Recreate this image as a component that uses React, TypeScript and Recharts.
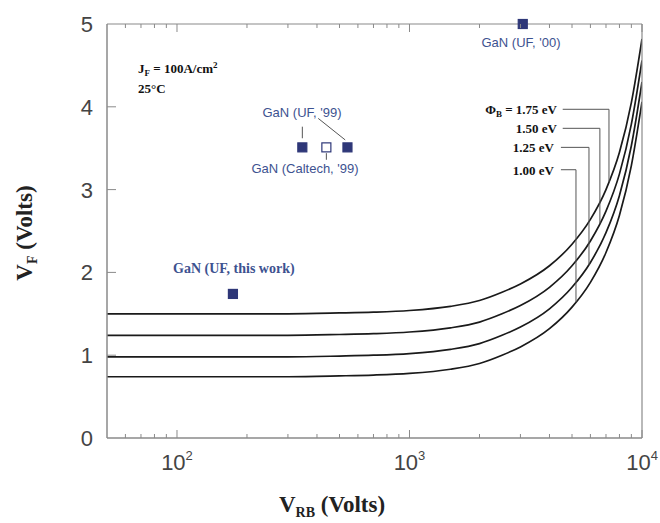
import React from "react";
import {
  ComposedChart,
  Line,
  Scatter,
  XAxis,
  YAxis,
  ReferenceLine,
  Customized,
} from "recharts";

// reverse blocking voltage (V) and forward voltage (V) for each barrier height
const vrb = [50, 100, 200, 300, 500, 700, 1000, 1500, 2000, 2500, 3000, 4000, 5000, 6000, 7000, 8000, 9000, 10000];
const vf100 = [0.74, 0.74, 0.74, 0.74, 0.75, 0.76, 0.78, 0.83, 0.9, 1.0, 1.1, 1.32, 1.58, 1.88, 2.24, 2.69, 3.29, 4.06];
const vf125 = [0.98, 0.98, 0.98, 0.98, 0.99, 1.0, 1.02, 1.07, 1.14, 1.24, 1.34, 1.56, 1.82, 2.12, 2.48, 2.93, 3.53, 4.3];
const vf150 = [1.24, 1.24, 1.24, 1.24, 1.25, 1.26, 1.28, 1.33, 1.4, 1.5, 1.6, 1.82, 2.08, 2.38, 2.74, 3.19, 3.79, 4.56];
const vf175 = [1.5, 1.5, 1.5, 1.5, 1.51, 1.52, 1.54, 1.59, 1.66, 1.76, 1.86, 2.08, 2.34, 2.64, 3.0, 3.45, 4.05, 4.82];

// reported devices
const ufThisWork = [{ x: 174, y: 1.74 }];
const uf99 = [
  { x: 346, y: 3.51 },
  { x: 541, y: 3.51 },
];
const caltech99 = [{ x: 439, y: 3.51 }];
const uf00 = [{ x: 3070, y: 5.0 }];

const xMajor = [100, 1000, 10000];
const xTicks = [60, 70, 80, 90, 100, 200, 300, 400, 500, 600, 700, 800, 900, 1000, 2000, 3000, 4000, 5000, 6000, 7000, 8000, 9000, 10000];
const yTicks = [0, 1, 2, 3, 4, 5];
const yRightTicks = [1, 2, 3, 4];

const toRows = (ys: number[]) => vrb.map((x, i) => ({ x, y: ys[i] }));

const AXIS = "#8a8a8a";
const NAVY = "#2e3778";
const LABEL_BLUE = "#3d5290";
const SERIF = "'Liberation Serif', 'DejaVu Serif', serif";
const SANS = "'Liberation Sans', Arial, sans-serif";

const BottomTick = (props: any) => {
  const { x, y, payload } = props;
  const v = payload.value;
  const major = xMajor.includes(v);
  return (
    <g>
      <line x1={x} y1={y} x2={x} y2={y - (major ? 8 : 4)} stroke={AXIS} strokeWidth={1} />
      {major && (
        <text x={x} y={y + 32} textAnchor="middle" fontFamily={SANS} fontSize={22} fill="#444">
          10
          <tspan dy={-10} fontSize={13}>
            {Math.round(Math.log10(v))}
          </tspan>
        </text>
      )}
    </g>
  );
};

const TopTick = (props: any) => {
  const { x, y, payload } = props;
  const major = xMajor.includes(payload.value);
  return <line x1={x} y1={y} x2={x} y2={y + (major ? 8 : 4)} stroke={AXIS} strokeWidth={1} />;
};

const LeftTick = (props: any) => {
  const { x, y, payload } = props;
  return (
    <g>
      {payload.value > 0 && payload.value < 5 && (
        <line x1={x} y1={y} x2={x + 9} y2={y} stroke={AXIS} strokeWidth={1} />
      )}
      <text x={x - 14} y={y + 8} textAnchor="end" fontFamily={SANS} fontSize={22} fill="#444">
        {payload.value}
      </text>
    </g>
  );
};

const RightTick = (props: any) => {
  const { x, y } = props;
  return <line x1={x} y1={y} x2={x - 7} y2={y} stroke={AXIS} strokeWidth={1} />;
};

const square = (filled: boolean) => (p: any) => (
  <rect
    x={p.cx - 4.5}
    y={p.cy - 4.5}
    width={9}
    height={9}
    fill={filled ? NAVY : "#fff"}
    stroke={NAVY}
    strokeWidth={1.2}
  />
);

const Annotations = () => (
  <g>
    <text x={138} y={73} fontFamily={SERIF} fontWeight="bold" fontSize={13} fill="#111">
      J<tspan dy={3} fontSize={9}>F</tspan>
      <tspan dy={-3}> = 100A/cm</tspan>
      <tspan dy={-5} fontSize={9}>2</tspan>
    </text>
    <text x={138} y={93} fontFamily={SERIF} fontWeight="bold" fontSize={13} fill="#111">
      25°C
    </text>
    <text x={521} y={47} textAnchor="middle" fontFamily={SANS} fontSize={13} fill={LABEL_BLUE}>
      GaN (UF, '00)
    </text>
    <text x={302} y={117} textAnchor="middle" fontFamily={SANS} fontSize={13} fill={LABEL_BLUE}>
      GaN (UF, '99)
    </text>
    <text x={305} y={173} textAnchor="middle" fontFamily={SANS} fontSize={13} fill={LABEL_BLUE}>
      GaN (Caltech, '99)
    </text>
    <text x={173} y={273} fontFamily={SERIF} fontWeight="bold" fontSize={14} fill={LABEL_BLUE}>
      GaN (UF, this work)
    </text>
    <text x={557} y={114} textAnchor="end" fontFamily={SERIF} fontWeight="bold" fontSize={13} fill="#111">
      Φ<tspan dy={3} fontSize={9}>B</tspan>
      <tspan dy={-3}> = 1.75 eV</tspan>
    </text>
    <text x={557} y={133} textAnchor="end" fontFamily={SERIF} fontWeight="bold" fontSize={13} fill="#111">
      1.50 eV
    </text>
    <text x={554} y={152} textAnchor="end" fontFamily={SERIF} fontWeight="bold" fontSize={13} fill="#111">
      1.25 eV
    </text>
    <text x={554} y={175} textAnchor="end" fontFamily={SERIF} fontWeight="bold" fontSize={13} fill="#111">
      1.00 eV
    </text>
    <text
      x={32}
      y={233}
      transform="rotate(-90 32 233)"
      textAnchor="middle"
      fontFamily={SERIF}
      fontWeight="bold"
      fontSize={23}
      fill="#222"
    >
      V<tspan dy={5} fontSize={14}>F</tspan>
      <tspan dy={-5}> (Volts)</tspan>
    </text>
    <text x={332} y={512} textAnchor="middle" fontFamily={SERIF} fontWeight="bold" fontSize={23} fill="#222">
      V<tspan dy={5} fontSize={14}>RB</tspan>
      <tspan dy={-5}> (Volts)</tspan>
    </text>
  </g>
);

const leaders = [
  [{ x: 4560, y: 3.97 }, { x: 7210, y: 3.97 }],
  [{ x: 7210, y: 3.97 }, { x: 7210, y: 3.09 }],
  [{ x: 4560, y: 3.74 }, { x: 6590, y: 3.74 }],
  [{ x: 6590, y: 3.74 }, { x: 6590, y: 2.59 }],
  [{ x: 4480, y: 3.51 }, { x: 5915, y: 3.51 }],
  [{ x: 5915, y: 3.51 }, { x: 5915, y: 2.09 }],
  [{ x: 4480, y: 3.24 }, { x: 5200, y: 3.24 }],
  [{ x: 5200, y: 3.24 }, { x: 5200, y: 1.64 }],
  [{ x: 346, y: 3.62 }, { x: 346, y: 3.76 }],
  [{ x: 405, y: 3.86 }, { x: 529, y: 3.6 }],
  [{ x: 439, y: 3.44 }, { x: 439, y: 3.36 }],
];

const curves = [vf100, vf125, vf150, vf175];

export default function App() {
  return (
    <div>
      <style>{`body{margin:0;background:#fff}`}</style>
      <ComposedChart width={660} height={523} margin={{ top: 23, right: 0, left: 0, bottom: 0 }}>
        <XAxis
          xAxisId="bottom"
          type="number"
          dataKey="x"
          scale="log"
          domain={[50, 10000]}
          allowDataOverflow
          ticks={xTicks}
          interval={0}
          tick={<BottomTick />}
          tickLine={false}
          tickSize={0}
          tickMargin={0}
          height={85}
          axisLine={{ stroke: AXIS, strokeWidth: 1.5 }}
        />
        <XAxis
          xAxisId="top"
          orientation="top"
          type="number"
          dataKey="x"
          scale="log"
          domain={[50, 10000]}
          allowDataOverflow
          ticks={xTicks}
          interval={0}
          tick={<TopTick />}
          tickLine={false}
          tickSize={0}
          tickMargin={0}
          height={1}
          axisLine={{ stroke: AXIS, strokeWidth: 1.2 }}
        />
        <YAxis
          yAxisId="left"
          type="number"
          domain={[0, 5]}
          ticks={yTicks}
          interval={0}
          tick={<LeftTick />}
          tickLine={false}
          tickSize={0}
          tickMargin={0}
          width={107}
          axisLine={{ stroke: AXIS, strokeWidth: 1.5 }}
        />
        <YAxis
          yAxisId="right"
          orientation="right"
          type="number"
          domain={[0, 5]}
          ticks={yRightTicks}
          interval={0}
          tick={<RightTick />}
          tickLine={false}
          tickSize={0}
          tickMargin={0}
          width={18}
          axisLine={{ stroke: AXIS, strokeWidth: 1.2 }}
        />
        {curves.map((ys, i) => (
          <Line
            key={i}
            xAxisId="bottom"
            yAxisId="left"
            data={toRows(ys)}
            dataKey="y"
            type="monotone"
            stroke="#1a1a1a"
            strokeWidth={1.7}
            dot={false}
            isAnimationActive={false}
          />
        ))}
        {leaders.map((seg, i) => (
          <ReferenceLine
            key={i}
            xAxisId="bottom"
            yAxisId="left"
            segment={seg}
            stroke="#555"
            strokeWidth={1}
          />
        ))}
        <Scatter xAxisId="bottom" yAxisId="left" data={ufThisWork} dataKey="y" shape={square(true)} isAnimationActive={false} />
        <Scatter xAxisId="bottom" yAxisId="left" data={uf99} dataKey="y" shape={square(true)} isAnimationActive={false} />
        <Scatter xAxisId="bottom" yAxisId="left" data={caltech99} dataKey="y" shape={square(false)} isAnimationActive={false} />
        <Scatter xAxisId="bottom" yAxisId="left" data={uf00} dataKey="y" shape={square(true)} isAnimationActive={false} />
        <Customized component={Annotations} />
      </ComposedChart>
    </div>
  );
}
